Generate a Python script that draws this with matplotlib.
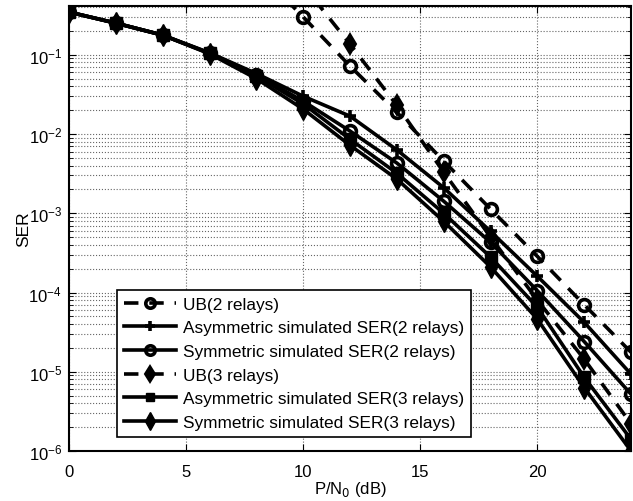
import matplotlib
matplotlib.use("Agg")
import matplotlib.pyplot as plt
from matplotlib.ticker import LogLocator, NullFormatter

plt.rcParams['font.family'] = ['Liberation Sans', 'DejaVu Sans']

# P/N0 in dB
snr = [0, 2, 4, 6, 8, 10, 12, 14, 16, 18, 20, 22, 24]
snr_ub2 = [8, 10, 12, 14, 16, 18, 20, 22, 24]
snr_ub3 = [10, 12, 14, 16, 18, 20, 22, 24]

# SER values
ub_2 = [1.2, 0.30, 0.072, 0.0188, 0.00455, 0.00113, 2.85e-4, 7.0e-5, 1.76e-5]
asym_2 = [0.346, 0.251, 0.177, 0.106, 0.058, 0.030, 0.0168, 0.0063, 0.0021,
          5.9e-4, 1.6e-4, 4.2e-5, 9.3e-6]
sym_2 = [0.346, 0.251, 0.177, 0.105, 0.056, 0.026, 0.0109, 0.0043, 0.00142,
         4.3e-4, 1.05e-4, 2.4e-5, 5.2e-6]
ub_3 = [0.75, 0.136, 0.023, 0.0033, 5.0e-4, 8.0e-5, 1.44e-5, 2.2e-6]
asym_3 = [0.346, 0.251, 0.177, 0.104, 0.054, 0.024, 0.0086, 0.0032, 0.0010,
          2.8e-4, 6.5e-5, 8.5e-6, 1.4e-6]
sym_3 = [0.346, 0.251, 0.177, 0.103, 0.050, 0.0206, 0.0072, 0.0027, 7.9e-4,
         2.1e-4, 4.6e-5, 6.3e-6, 1.0e-6]

fig = plt.figure(figsize=(6.33, 5.02), dpi=100)
ax = fig.add_axes([0.109, 0.0996, 0.888, 0.886])

lw = 2.6
ax.semilogy(snr_ub2, ub_2, 'k--', lw=lw, marker='o', ms=8.5, mfc='none', mew=2.6,
            dashes=(4, 3), label='UB(2 relays)')
ax.semilogy(snr, asym_2, 'k-', lw=lw, marker='+', ms=9, mew=2.6,
            label='Asymmetric simulated SER(2 relays)')
ax.semilogy(snr, sym_2, 'k-', lw=lw, marker='o', ms=8.5, mfc='none', mew=2.6,
            label='Symmetric simulated SER(2 relays)')
ax.semilogy(snr_ub3, ub_3, 'k--', lw=lw, marker='d', ms=10, mfc='k', mew=1.5,
            dashes=(4, 3), label='UB(3 relays)')
ax.semilogy(snr, asym_3, 'k-', lw=lw, marker='s', ms=8, mfc='k',
            label='Asymmetric simulated SER(3 relays)')
ax.semilogy(snr, sym_3, 'k-', lw=lw, marker='d', ms=11, mfc='k',
            label='Symmetric simulated SER(3 relays)')

ax.set_xlim(0, 24)
ax.set_ylim(1e-6, 0.41)
ax.set_xticks([0, 5, 10, 15, 20])
ax.yaxis.set_major_locator(LogLocator(base=10, numticks=10))
ax.yaxis.set_minor_locator(LogLocator(base=10, subs=range(2, 10), numticks=20))
ax.yaxis.set_minor_formatter(NullFormatter())
ax.tick_params(which='both', direction='in', top=True, right=True, labelsize=12)
ax.tick_params(which='major', length=5)
ax.tick_params(which='minor', length=3)
ax.tick_params(axis='x', pad=9)
ax.tick_params(axis='y', pad=5)
ax.grid(True, which='major', linestyle=':', color='0.4', lw=0.8)
ax.grid(True, which='minor', axis='y', linestyle=':', color='0.4', lw=0.8)
for s in ax.spines.values():
    s.set_linewidth(1.5)

ax.set_xlabel('P/N$_0$ (dB)', fontsize=12, labelpad=0)
ax.set_ylabel('SER', fontsize=12.5, labelpad=-2)

leg = ax.legend(loc='lower left', bbox_to_anchor=(0.086, 0.032), fontsize=12.4,
                handlelength=3.0, handletextpad=0.4, borderpad=0.4,
                labelspacing=0.5, fancybox=False, framealpha=1,
                borderaxespad=0, markerscale=0.8)
leg.get_frame().set_edgecolor('k')
leg.get_frame().set_linewidth(1.2)

fig.savefig('out.png', dpi=100)
